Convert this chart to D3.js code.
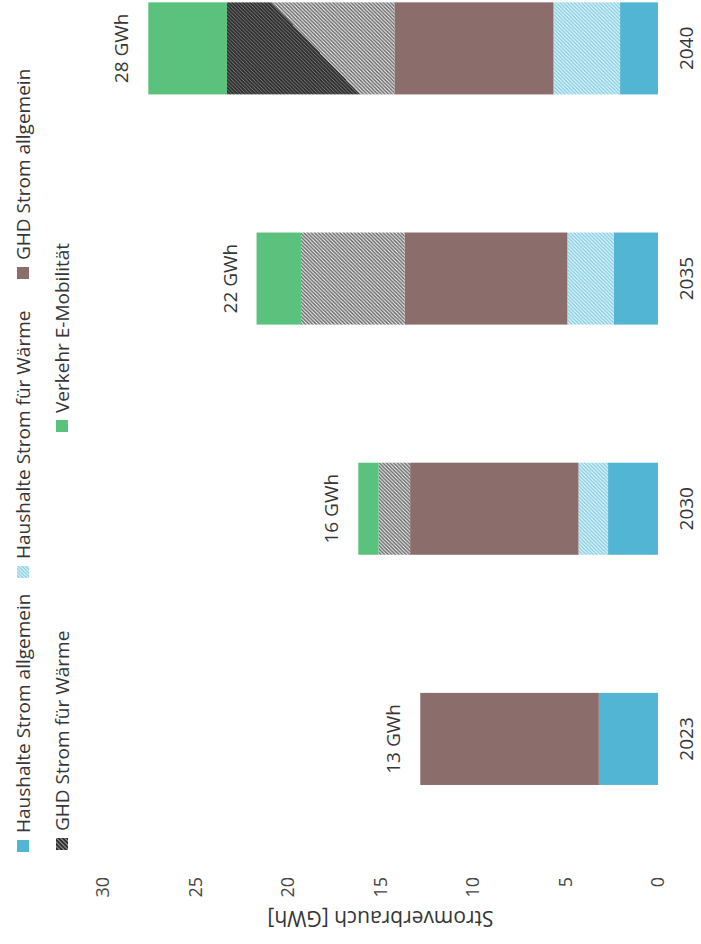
<!DOCTYPE html>
<html>
<head>
<meta charset="utf-8">
<script src="https://cdn.jsdelivr.net/npm/d3@7"></script>
<style>
  html, body { margin: 0; padding: 0; background: #ffffff; }
  svg { display: block; }
</style>
</head>
<body>
<svg id="chart" width="701" height="944"></svg>
<script>
// Electricity demand by sector and year (GWh), stacked from the base upward
const years = ["2023", "2030", "2035", "2040"];
const seriesNames = [
  "Haushalte Strom allgemein",
  "Haushalte Strom für Wärme",
  "GHD Strom allgemein",
  "GHD Strom für Wärme",
  "Verkehr E-Mobilität"
];
const haushalteAllgemein = [3.2, 2.7, 2.4, 2.05];
const haushalteWaerme    = [0, 1.6, 2.5, 3.6];
const ghdAllgemein       = [9.65, 9.1, 8.8, 8.6];
const ghdWaerme          = [0, 1.7, 5.6, 9.05];
const verkehrEMobilitaet = [0, 1.1, 2.4, 4.25];
const valueTicks = [0, 5, 10, 15, 20, 25, 30];
const unit = "GWh";
const axisTitle = "Stromverbrauch [GWh]";

const seriesValues = [haushalteAllgemein, haushalteWaerme, ghdAllgemein, ghdWaerme, verkehrEMobilitaet];
const rows = years.map((year, i) => {
  const row = { year };
  seriesNames.forEach((name, k) => { row[name] = seriesValues[k][i]; });
  row.total = d3.sum(seriesValues, s => s[i]);
  return row;
});

const W = 701, H = 944;
const FONT = "'Open Sans', 'Noto Sans', sans-serif";
const TEXT = "#363636";

const svg = d3.select("#chart");
const defs = svg.append("defs");

// diagonal hatch fills
function hatch(id, color, strokeWidth, period) {
  const p = defs.append("pattern")
    .attr("id", id)
    .attr("patternUnits", "userSpaceOnUse")
    .attr("width", period)
    .attr("height", period);
  p.append("rect").attr("width", period).attr("height", period).attr("fill", "#ffffff");
  const h = period / 2;
  p.append("path")
    .attr("d", `M${-h},${h} L${h},${-h} M0,${period} L${period},0 M${h},${period + h} L${period + h},${h}`)
    .attr("stroke", color)
    .attr("stroke-width", strokeWidth);
}
hatch("hatchLightBlue", "#86cfe3", 1.7, 3.6);
hatch("hatchGrey", "#646464", 1.45, 3.6);
hatch("hatchDark", "#2e2e2e", 2.3, 3.6);
hatch("hatchLegend", "#2a2a2a", 2.4, 4.2);

// darker band of the print on the 2040 heat segment
const grad = defs.append("linearGradient")
  .attr("id", "darkBand")
  .attr("x1", 0).attr("y1", 0).attr("x2", 0.53).attr("y2", 1);
grad.append("stop").attr("offset", 0.62).attr("stop-color", "#ffffff");
grad.append("stop").attr("offset", 0.62).attr("stop-color", "#000000");
defs.append("mask")
  .attr("id", "darkBandMask")
  .attr("maskContentUnits", "objectBoundingBox")
  .append("rect").attr("width", 1).attr("height", 1).attr("fill", "url(#darkBand)");

const fills = ["#52b5d3", "url(#hatchLightBlue)", "#8b6d6b", "url(#hatchGrey)", "#5bc27d"];
const legendFills = ["#52b5d3", "url(#hatchLightBlue)", "#8b6d6b", "url(#hatchLegend)", "#5bc27d"];

// the chart is laid out as a column chart and turned a quarter turn
const g = svg.append("g")
  .attr("transform", `translate(0,${H}) rotate(-90)`)
  .attr("font-family", FONT);

const x = d3.scaleBand()
  .domain(years)
  .range([90, 1010.7])
  .paddingInner(0.6)
  .paddingOuter(0.3);

const y = d3.scaleLinear()
  .domain([0, 30])
  .range([658, 103]);

const stacked = d3.stack().keys(seriesNames)(rows);

const layers = g.append("g")
  .selectAll("g")
  .data(stacked)
  .join("g")
  .attr("fill", d => fills[d.index]);

layers.selectAll("rect")
  .data(d => d)
  .join("rect")
  .attr("x", d => x(d.data.year))
  .attr("width", x.bandwidth())
  .attr("y", d => y(d[1]))
  .attr("height", d => y(d[0]) - y(d[1]));

// darker print overlay on the last heat segment
const lastHeat = stacked[3][years.length - 1];
g.append("rect")
  .attr("x", x(lastHeat.data.year))
  .attr("width", x.bandwidth())
  .attr("y", y(lastHeat[1]))
  .attr("height", y(lastHeat[0]) - y(lastHeat[1]))
  .attr("fill", "url(#hatchDark)")
  .attr("mask", "url(#darkBandMask)");

// totals above the columns
g.append("g")
  .selectAll("text")
  .data(rows)
  .join("text")
  .attr("x", d => x(d.year) + x.bandwidth() / 2)
  .attr("y", d => y(d.total) - 20)
  .attr("text-anchor", "middle")
  .attr("font-size", 19)
  .attr("fill", TEXT)
  .text(d => `${Math.round(d.total)} ${unit}`);

// value axis
g.append("g")
  .attr("transform", "translate(67,0)")
  .call(d3.axisLeft(y).tickValues(valueTicks).tickSize(0).tickPadding(0))
  .call(a => a.select(".domain").remove())
  .call(a => a.selectAll("text")
    .attr("font-family", FONT)
    .attr("font-size", 18)
    .attr("fill", "#454545"));

// category axis
g.append("g")
  .attr("transform", "translate(0,679)")
  .call(d3.axisBottom(x).tickSize(0).tickPadding(0))
  .call(a => a.select(".domain").remove())
  .call(a => a.selectAll("text")
    .attr("font-family", FONT)
    .attr("font-size", 19)
    .attr("fill", TEXT));

g.append("text")
  .attr("transform", "rotate(-90)")
  .attr("x", -y(15))
  .attr("y", 33)
  .attr("text-anchor", "middle")
  .attr("font-size", 21)
  .attr("fill", TEXT)
  .text(axisTitle);

// legend in two rows, entries start at fixed positions
const legendRows = [
  { items: [0, 1, 2], mid: 23, starts: [92, 366, 665] },
  { items: [3, 4], mid: 62, starts: [94, 512] }
];
const legend = g.append("g").attr("font-size", 19).attr("fill", TEXT);
legendRows.forEach(row => {
  row.items.forEach((k, j) => {
    const item = legend.append("g").attr("transform", `translate(${row.starts[j]},${row.mid})`);
    item.append("rect")
      .attr("x", 0).attr("y", -6)
      .attr("width", 12).attr("height", 12)
      .attr("fill", legendFills[k]);
    item.append("text")
      .attr("x", 19)
      .attr("y", 0)
      .attr("dy", "0.35em")
      .text(seriesNames[k]);
  });
});
</script>
</body>
</html>
